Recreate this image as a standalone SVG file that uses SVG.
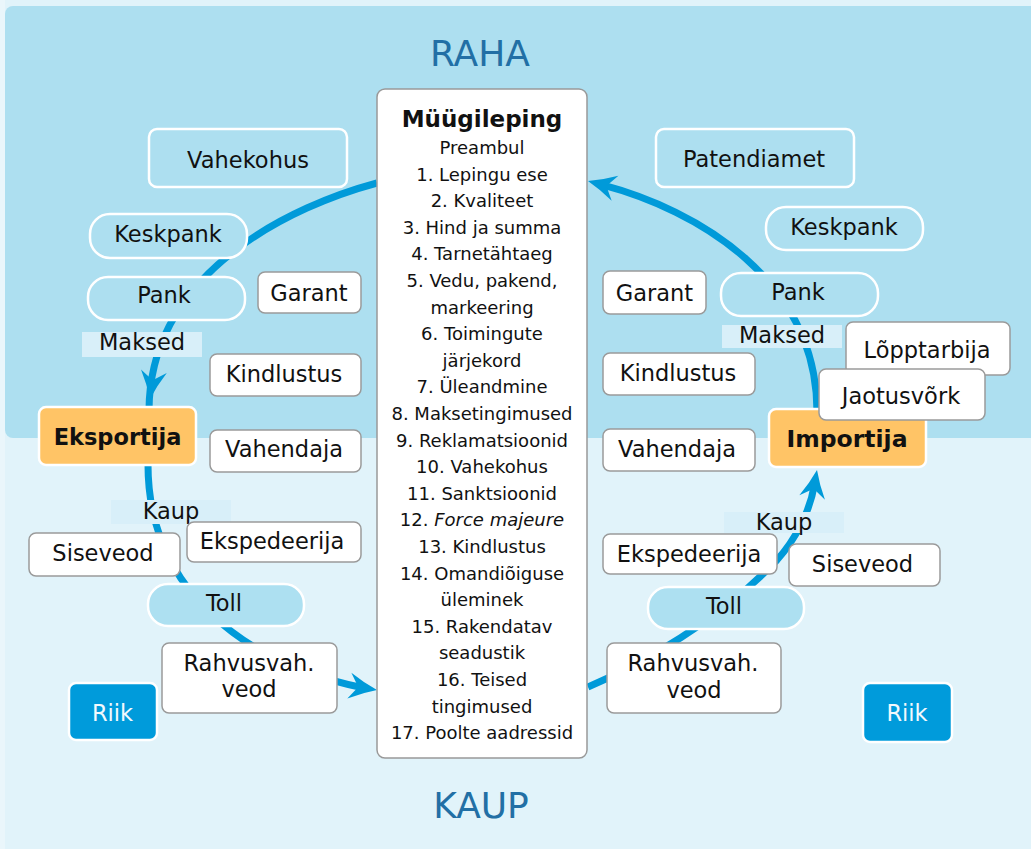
<svg xmlns="http://www.w3.org/2000/svg" xmlns:xlink="http://www.w3.org/1999/xlink" width="1031" height="849" viewBox="0 0 1031 849">
<defs>
<style>
text{font-family:"DejaVu Sans","Verdana",sans-serif;fill:#111;text-anchor:middle}
.t{font-size:22.5px}
.b{font-size:22.5px;font-weight:bold}
.c{font-size:18px}
.h{font-size:36px;fill:#226fa5}
.lb{fill:#addff0;stroke:#fff;stroke-width:2.5}
.lb2{fill:#ade0f1;stroke:#fff;stroke-width:2.5}
.wh{fill:#fff;stroke:#9a9a9a;stroke-width:1.5}
.or{fill:#ffc466;stroke:#fff;stroke-width:2.5}
.rk{fill:#009bdb;stroke:#fff;stroke-width:2.5}
.lbl{fill:#d8eff9}
.ln{fill:none;stroke:#009ad9;stroke-width:7}
.ah{fill:#009ad9}
</style>
<path id="ah" d="M0,0 Q-14,-5 -28,-13 L-19,0 L-28,13 Q-14,5 0,0 Z"/>
</defs>
<rect x="0" y="0" width="1031" height="849" fill="#eaf6fb"/>
<rect x="5" y="0" width="1030" height="849" fill="#e1f3fa"/>
<rect x="5" y="6" width="1040" height="432" rx="8" fill="#addff0"/>
<text class="h" x="480" y="66">RAHA</text>
<text class="h" x="481" y="818">KAUP</text>

<g id="connectors">
<path class="ln" d="M377,183 C295,205 150,270 149,410"/>
<path class="ln" d="M148,462 C147,590 245,664 364,688"/>
<path class="ln" d="M588,687 C640,665 720,620 777,560 C795,540 810,512 814.6,483.8"/>
<path class="ln" d="M817,412 C817,280 698,210 601.5,184.6"/>
<use href="#ah" class="ah" transform="translate(150,399) rotate(98)"/>
<use href="#ah" class="ah" transform="translate(377,690) rotate(9)"/>
<use href="#ah" class="ah" transform="translate(817,470) rotate(-80)"/>
<use href="#ah" class="ah" transform="translate(588,181) rotate(195)"/>
</g>

<g id="lbl-maksed-l"><rect class="lbl" x="82" y="332" width="120" height="25"/><text class="t" x="142" y="350">Maksed</text></g>
<g id="lbl-kaup-l"><rect class="lbl" x="111" y="500" width="120" height="24"/><text class="t" x="171" y="519">Kaup</text></g>
<g id="lbl-maksed-r"><rect class="lbl" x="722" y="325" width="120" height="23"/><text class="t" x="782" y="343">Maksed</text></g>
<g id="lbl-kaup-r"><rect class="lbl" x="724" y="512" width="120" height="21"/><text class="t" x="784" y="530">Kaup</text></g>

<g id="vahekohus"><rect class="lb" x="149" y="129" width="198" height="58" rx="8"/><text class="t" x="248" y="168">Vahekohus</text></g>
<g id="keskpank-l"><rect class="lb" x="90" y="214" width="157" height="44" rx="20"/><text class="t" x="168" y="242">Keskpank</text></g>
<g id="pank-l"><rect class="lb" x="88" y="277" width="157" height="43" rx="20"/><text class="t" x="164" y="303">Pank</text></g>
<g id="garant-l"><rect class="wh" x="258" y="272" width="103" height="41" rx="7"/><text class="t" x="309" y="301">Garant</text></g>
<g id="kindlustus-l"><rect class="wh" x="210" y="354" width="151" height="42" rx="7"/><text class="t" x="284" y="382">Kindlustus</text></g>
<g id="vahendaja-l"><rect class="wh" x="210" y="430" width="151" height="42" rx="7"/><text class="t" x="284" y="457">Vahendaja</text></g>
<g id="eksportija"><rect class="or" x="39" y="407" width="157" height="58" rx="7"/><text class="b" x="117.5" y="445">Eksportija</text></g>
<g id="ekspedeerija-l"><rect class="wh" x="187" y="522" width="174" height="40" rx="7"/><text class="t" x="272" y="549">Ekspedeerija</text></g>
<g id="siseveod-l"><rect class="wh" x="29" y="533" width="151" height="43" rx="7"/><text class="t" x="103" y="561">Siseveod</text></g>
<g id="toll-l"><rect class="lb2" x="148" y="584" width="156" height="42" rx="20"/><text class="t" x="224" y="611">Toll</text></g>
<g id="rahvusvah-l"><rect class="wh" x="162" y="643" width="175" height="70" rx="7"/><text class="t" x="249" y="671">Rahvusvah.</text><text class="t" x="249" y="697">veod</text></g>
<g id="riik-l"><rect class="rk" x="69" y="683" width="88" height="57" rx="7"/><text class="t" x="112.5" y="721" style="fill:#f2f9fd">Riik</text></g>

<g id="patendiamet"><rect class="lb" x="656" y="129" width="198" height="58" rx="8"/><text class="t" x="754" y="167">Patendiamet</text></g>
<g id="keskpank-r"><rect class="lb" x="766" y="207" width="157" height="43" rx="20"/><text class="t" x="844" y="235">Keskpank</text></g>
<g id="pank-r"><rect class="lb" x="721" y="273" width="157" height="43" rx="20"/><text class="t" x="798" y="300">Pank</text></g>
<g id="garant-r"><rect class="wh" x="603" y="271" width="103" height="43" rx="7"/><text class="t" x="654.5" y="301">Garant</text></g>
<g id="kindlustus-r"><rect class="wh" x="603" y="353" width="152" height="42" rx="7"/><text class="t" x="678" y="381">Kindlustus</text></g>
<g id="vahendaja-r"><rect class="wh" x="603" y="429" width="152" height="42" rx="7"/><text class="t" x="677" y="457">Vahendaja</text></g>
<g id="importija"><rect class="or" x="769" y="409" width="157" height="58" rx="7"/><text class="b" x="847" y="447" style="font-size:23.5px">Importija</text></g>
<g id="lopptarbija"><rect class="wh" x="846" y="322" width="164" height="53" rx="7"/><text class="t" x="927" y="358">Lõpptarbija</text></g>
<g id="jaotusvork"><rect class="wh" x="819" y="369" width="166" height="51" rx="7"/><text class="t" x="901" y="404">Jaotusvõrk</text></g>
<g id="ekspedeerija-r"><rect class="wh" x="603" y="534" width="174" height="40" rx="7"/><text class="t" x="689" y="562">Ekspedeerija</text></g>
<g id="siseveod-r"><rect class="wh" x="789" y="544" width="151" height="42" rx="7"/><text class="t" x="862.5" y="572">Siseveod</text></g>
<g id="toll-r"><rect class="lb2" x="648" y="587" width="156" height="42" rx="20"/><text class="t" x="724" y="614">Toll</text></g>
<g id="rahvusvah-r"><rect class="wh" x="607" y="643" width="174" height="70" rx="7"/><text class="t" x="693" y="671">Rahvusvah.</text><text class="t" x="694" y="698">veod</text></g>
<g id="riik-r"><rect class="rk" x="863" y="683" width="89" height="59" rx="7"/><text class="t" x="907" y="721" style="fill:#f2f9fd">Riik</text></g>

<g id="myygileping">
<rect x="377" y="89" width="210" height="669" rx="8" fill="#fff" stroke="#999" stroke-width="1.5"/>
<text x="482" y="127" style="font-size:23px;font-weight:bold">Müügileping</text>
<text class="c" x="482" y="154">Preambul</text>
<text class="c" x="482" y="180.6">1. Lepingu ese</text>
<text class="c" x="482" y="207.2">2. Kvaliteet</text>
<text class="c" x="482" y="233.8">3. Hind ja summa</text>
<text class="c" x="482" y="260.4">4. Tarnetähtaeg</text>
<text class="c" x="482" y="287">5. Vedu, pakend,</text>
<text class="c" x="482" y="313.6">markeering</text>
<text class="c" x="482" y="340.2">6. Toimingute</text>
<text class="c" x="482" y="366.8">järjekord</text>
<text class="c" x="482" y="393.4">7. Üleandmine</text>
<text class="c" x="482" y="420">8. Maksetingimused</text>
<text class="c" x="482" y="446.6">9. Reklamatsioonid</text>
<text class="c" x="482" y="473.2">10. Vahekohus</text>
<text class="c" x="482" y="499.8">11. Sanktsioonid</text>
<text class="c" x="482" y="526.4">12. <tspan style="font-style:italic">Force majeure</tspan></text>
<text class="c" x="482" y="553">13. Kindlustus</text>
<text class="c" x="482" y="579.6">14. Omandiõiguse</text>
<text class="c" x="482" y="606.2">üleminek</text>
<text class="c" x="482" y="632.8">15. Rakendatav</text>
<text class="c" x="482" y="659.4">seadustik</text>
<text class="c" x="482" y="686">16. Teised</text>
<text class="c" x="482" y="712.6">tingimused</text>
<text class="c" x="482" y="739.2">17. Poolte aadressid</text>
</g>
</svg>
